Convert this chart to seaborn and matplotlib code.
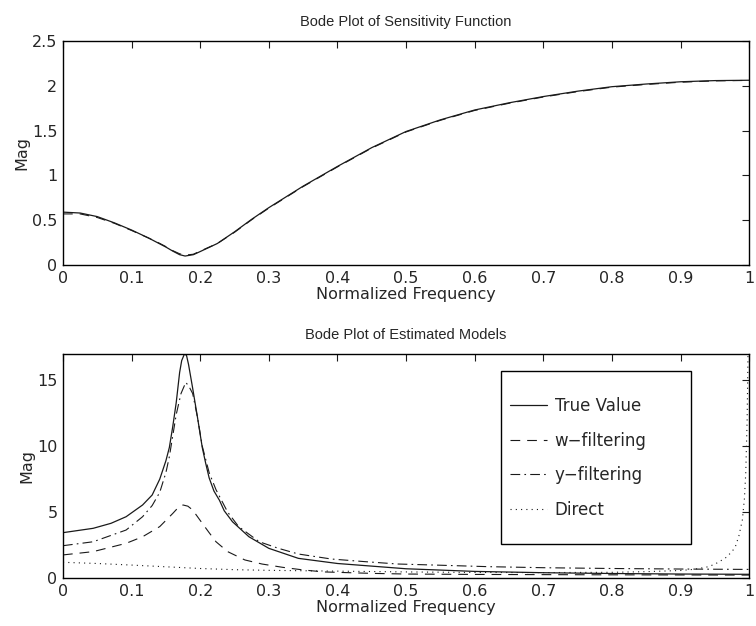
import numpy as np
import pandas as pd
import matplotlib
matplotlib.use("Agg")
import matplotlib.pyplot as plt
import seaborn as sns
from matplotlib.patches import Rectangle

# --- Sensitivity function (top panel) ---
sens_freq = [0, 0.025, 0.05, 0.075, 0.1, 0.125, 0.14, 0.15, 0.16, 0.17, 0.178, 0.19,
             0.2, 0.225, 0.25, 0.275, 0.3, 0.325, 0.35, 0.375, 0.4, 0.45, 0.5, 0.55,
             0.6, 0.65, 0.7, 0.75, 0.8, 0.85, 0.9, 0.95, 1.0]
sens_true = [0.59, 0.58, 0.54, 0.47, 0.39, 0.30, 0.24, 0.20, 0.155, 0.115, 0.10, 0.115,
             0.15, 0.24, 0.37, 0.51, 0.64, 0.76, 0.88, 0.99, 1.10, 1.31, 1.49, 1.62,
             1.73, 1.81, 1.88, 1.94, 1.99, 2.02, 2.045, 2.058, 2.062]
sens_est = [0.57, 0.57, 0.53, 0.465, 0.385, 0.30, 0.245, 0.205, 0.16, 0.125, 0.11, 0.12,
            0.155, 0.24, 0.365, 0.505, 0.635, 0.755, 0.875, 0.985, 1.095, 1.305, 1.485, 1.615,
            1.725, 1.805, 1.875, 1.935, 1.985, 2.015, 2.04, 2.055, 2.06]

# --- Estimated models (bottom panel) ---
true_freq = [0, 0.044, 0.07, 0.092, 0.116, 0.13, 0.141, 0.15, 0.155, 0.16, 0.165, 0.170,
             0.173, 0.177, 0.180, 0.183, 0.189, 0.196, 0.203, 0.208, 0.213, 0.22, 0.228,
             0.235, 0.247, 0.271, 0.3, 0.343, 0.4, 0.5, 0.6, 0.7, 0.8, 0.9, 1.0]
true_val = [3.44, 3.77, 4.15, 4.65, 5.54, 6.3, 7.5, 8.9, 9.9, 11.5, 13.3, 15.6,
            16.5, 17.0, 16.9, 16.2, 14.4, 12.2, 9.9, 8.7, 7.6, 6.6, 5.9,
            5.1, 4.27, 3.13, 2.25, 1.49, 1.1, 0.7, 0.5, 0.4, 0.34, 0.3, 0.28]

yfilt_freq = [0, 0.044, 0.092, 0.116, 0.13, 0.141, 0.15, 0.155, 0.16, 0.165, 0.172, 0.179,
              0.184, 0.189, 0.196, 0.203, 0.213, 0.223, 0.24, 0.256, 0.286, 0.314, 0.343,
              0.391, 0.44, 0.488, 0.536, 0.619, 0.7, 0.8, 0.9, 1.0]
yfilt_val = [2.45, 2.75, 3.64, 4.65, 5.5, 6.5, 8.0, 9.2, 10.8, 12.4, 14.0, 14.85,
             14.5, 14.0, 12.2, 10.0, 8.0, 6.7, 5.0, 3.9, 2.75, 2.25, 1.82,
             1.44, 1.24, 1.06, 0.99, 0.86, 0.78, 0.72, 0.68, 0.65]

wfilt_freq = [0, 0.044, 0.092, 0.116, 0.141, 0.16, 0.168, 0.175, 0.182, 0.189, 0.203,
              0.213, 0.223, 0.24, 0.265, 0.29, 0.32, 0.35, 0.38, 0.45, 0.5, 0.6, 0.8, 1.0]
wfilt_val = [1.75, 2.0, 2.63, 3.13, 3.9, 4.9, 5.35, 5.54, 5.45, 5.16, 4.15,
             3.44, 2.75, 2.0, 1.37, 1.06, 0.81, 0.61, 0.46, 0.35, 0.3, 0.27, 0.24, 0.22]

direct_freq = [0, 0.05, 0.1, 0.15, 0.2, 0.25, 0.3, 0.4, 0.5, 0.6, 0.7, 0.8, 0.85, 0.9,
               0.92, 0.94, 0.95, 0.965, 0.975, 0.98, 0.985, 0.99, 0.993, 0.995, 0.997,
               0.998, 1.0]
direct_val = [1.19, 1.1, 0.98, 0.85, 0.72, 0.63, 0.58, 0.52, 0.46, 0.42, 0.41, 0.43, 0.48,
              0.57, 0.66, 0.85, 1.05, 1.5, 2.0, 2.4, 3.2, 4.4, 6.0, 8.0, 12.0, 16.0, 25.0]

x_ticks = [0, 0.1, 0.2, 0.3, 0.4, 0.5, 0.6, 0.7, 0.8, 0.9, 1]
top_yticks = [0, 0.5, 1, 1.5, 2, 2.5]
bot_yticks = [0, 5, 10, 15]

sns.set_theme(style="white")
plt.rcParams['font.family'] = ['DejaVu Sans']
plt.rcParams['lines.scale_dashes'] = False

fig = plt.figure(figsize=(7.56, 6.26), dpi=100)
ax1 = fig.add_axes([0.0833, 0.5767, 0.9077, 0.3578])
ax2 = fig.add_axes([0.0833, 0.0767, 0.9077, 0.3578])

solid = '-'
dashed = (0, (7, 5))
dashdot = (0, (7, 3, 1.2, 3))
dotted = (0, (0.8, 3))

# top panel
df_top = pd.DataFrame({"freq": sens_freq, "true": sens_true, "est": sens_est})
sns.lineplot(data=df_top, x="freq", y="est", ax=ax1, color="k", lw=0.8, linestyle=dashed)
sns.lineplot(data=df_top, x="freq", y="true", ax=ax1, color="k", lw=0.9, linestyle=solid)
ax1.set_xlim(0, 1)
ax1.set_ylim(0, 2.5)
ax1.set_yticks(top_yticks)
ax1.set_yticklabels([f"{v:g}" for v in top_yticks])
ax1.set_title("Bode Plot of Sensitivity Function", fontsize=10.5,
              family="Liberation Sans", pad=11)

# bottom panel
series = [
    (true_freq, true_val, "True Value", solid, 0.9),
    (wfilt_freq, wfilt_val, "w\u2212filtering", dashed, 0.8),
    (yfilt_freq, yfilt_val, "y\u2212filtering", dashdot, 0.8),
    (direct_freq, direct_val, "Direct", dotted, 0.8),
]
for fx, fy, name, ls, lw in series:
    sns.lineplot(x=fx, y=fy, ax=ax2, color="k", lw=lw, linestyle=ls, label=name,
                 sort=False)
ax2.set_xlim(0, 1)
ax2.set_ylim(0, 17)
ax2.set_yticks(bot_yticks)
ax2.set_yticklabels([f"{v:g}" for v in bot_yticks])
ax2.set_title("Bode Plot of Estimated Models", fontsize=10.5,
              family="Liberation Sans", pad=11)

# legend box like MATLAB
ax2.add_patch(Rectangle((0.638, 0.152), 0.2765, 0.772, transform=ax2.transAxes,
                        facecolor="white", edgecolor="black", lw=1.0, zorder=4))
leg = ax2.legend(loc="center left", bbox_to_anchor=(0.652, 0.536), frameon=False,
                 fontsize=12, handlelength=2.2, handletextpad=0.45,
                 labelspacing=1.0, borderaxespad=0, borderpad=0)
leg.set_zorder(5)

for ax in (ax1, ax2):
    ax.set_xticks(x_ticks)
    ax.set_xticklabels([f"{v:g}" for v in x_ticks])
    ax.set_xlabel("Normalized Frequency", fontsize=11.5, labelpad=1)
    ax.set_ylabel("Mag", fontsize=11.5, labelpad=2)
    ax.tick_params(direction="in", length=5, width=0.8, top=True, right=True,
                   labelsize=11.5, pad=4, color="k")
    for sp in ax.spines.values():
        sp.set_color("black")
        sp.set_linewidth(1.0)
    ax.grid(False)

fig.savefig("out.png", dpi=100)
